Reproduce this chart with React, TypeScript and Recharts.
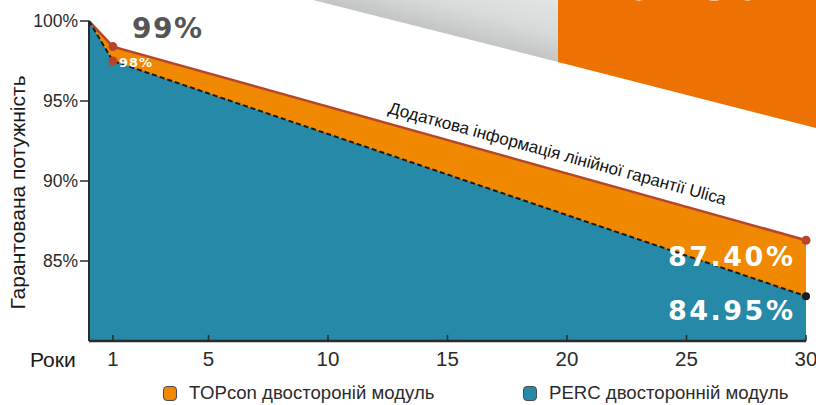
import React from 'react';
import { ComposedChart, Area, XAxis, YAxis, Legend } from 'recharts';

// ---- data ----
const years = [0, 1, 30];
const topconValues = [100, 98.4, 86.3];
const percValues = [100, 97.5, 82.8];
const xTicks = [1, 5, 10, 15, 20, 25, 30];
const yTicks = [85, 90, 95, 100];
const seriesNames = ['TOPcon двостороній модуль', 'PERC двосторонній модуль'];
const calloutLabels = ['99%', '98%', '87.40%', '84.95%'];
const axisTitles = ['Роки', 'Гарантована потужність'];
const lineNote = 'Додаткова інформація лінійної гарантії Ulica';
const bannerText = 'TOPCON';

const data = years.map((year, i) => ({ year, topcon: topconValues[i], perc: percValues[i] }));

const ORANGE = '#f08800';
const BLUE = '#2589a7';
const RED = '#b5452b';
const SANS = "'Liberation Sans', Arial, sans-serif";
const NARROW = "'Liberation Sans Narrow', 'Liberation Sans', Arial, sans-serif";
const BOLD = "'DejaVu Sans', 'Liberation Sans', sans-serif";

const topconDot = (props: any) => {
  const { cx, cy, index } = props;
  if (index === 0) return <g key={`td${index}`} />;
  return <circle key={`td${index}`} cx={cx} cy={cy} r={4.5} fill={RED} />;
};

const percDot = (props: any) => {
  const { cx, cy, index } = props;
  if (index === 0) return <g key={`pd${index}`} />;
  return <circle key={`pd${index}`} cx={cx} cy={cy} r={index === 1 ? 4.5 : 4} fill={index === 1 ? RED : '#1a1a1a'} />;
};

const XTick = (props: any) => {
  const { x, y, payload } = props;
  return (
    <g>
      <line x1={x} x2={x} y1={y - 8} y2={y - 14} stroke="#2b2b2b" strokeWidth={1.5} />
      <text x={x} y={y + 17} textAnchor="middle" fontFamily={NARROW} fontSize={20.5} fill="#2b2b2b">
        {payload.value}
      </text>
    </g>
  );
};

const LegendContent = () => {
  const items = [
    { name: seriesNames[0], color: ORANGE, left: 163 },
    { name: seriesNames[1], color: BLUE, left: 523 },
  ];
  return (
    <div style={{ position: 'relative', height: 0, width: 816 }}>
      {items.map((it) => (
        <div
          key={it.name}
          style={{
            position: 'absolute',
            left: it.left,
            top: 4,
            display: 'flex',
            alignItems: 'center',
            whiteSpace: 'nowrap',
          }}
        >
          <span
            style={{
              display: 'inline-block',
              width: 14,
              height: 15,
              boxSizing: 'border-box',
              borderRadius: 4,
              border: '1px solid #4a4a4a',
              background: it.color,
              marginRight: 12,
            }}
          />
          <span style={{ fontFamily: SANS, fontSize: 18.6, lineHeight: '18px', color: '#2b2b2b' }}>{it.name}</span>
        </div>
      ))}
    </div>
  );
};

export default function App() {
  return (
    <div style={{ position: 'absolute', left: 0, top: 0, width: 816, height: 405, overflow: 'hidden', background: '#fff' }}>
      {/* background decoration */}
      <svg width={816} height={405} style={{ position: 'absolute', left: 0, top: 0 }}>
        <defs>
          <linearGradient id="grayBand" gradientUnits="userSpaceOnUse" x1={450} y1={35} x2={465} y2={-23}>
            <stop offset="0" stopColor="#c3c4c4" />
            <stop offset="0.45" stopColor="#d8d9d9" />
            <stop offset="1" stopColor="#e3e4e4" />
          </linearGradient>
        </defs>
        <polygon points="313,0 558,0 558,62" fill="url(#grayBand)" />
        <polygon points="558,0 816,0 816,128 558,62" fill="#ee7203" />
        <text x={587} y={-0.5} fontFamily={BOLD} fontWeight="bold" fontSize={46} fill="#fff" textLength={220} lengthAdjust="spacingAndGlyphs">
          {bannerText}
        </text>
      </svg>

      <div style={{ position: 'absolute', left: 0, top: 0 }}>
        <ComposedChart width={816} height={405} data={data} margin={{ top: 21, right: 10, bottom: 34, left: 0 }}>
          <XAxis
            dataKey="year"
            type="number"
            domain={[0, 30]}
            ticks={xTicks}
            height={30}
            axisLine={{ stroke: '#2b2b2b', strokeWidth: 2.5 }}
            tickLine={false}
            tickSize={6}
            tickMargin={2}
            tick={<XTick />}
            interval={0}
          />
          <YAxis
            type="number"
            domain={[80, 100]}
            ticks={yTicks}
            width={89}
            tickFormatter={(v: number) => `${v}%`}
            axisLine={{ stroke: '#2b2b2b', strokeWidth: 2 }}
            tickLine={{ stroke: '#2b2b2b', strokeWidth: 1.5 }}
            tickSize={9}
            tickMargin={2}
            tick={{ fontFamily: SANS, fontSize: 17.5, fill: '#2b2b2b' }}
            interval={0}
          />
          <Area
            name={seriesNames[0]}
            dataKey="topcon"
            type="linear"
            fill={ORANGE}
            fillOpacity={1}
            stroke={RED}
            strokeWidth={2.5}
            dot={topconDot}
            activeDot={false}
            isAnimationActive={false}
          />
          <Area
            name={seriesNames[1]}
            dataKey="perc"
            type="linear"
            fill={BLUE}
            fillOpacity={1}
            stroke="#1a1a1a"
            strokeWidth={2}
            strokeDasharray="5 3"
            dot={percDot}
            activeDot={false}
            isAnimationActive={false}
          />
          <Legend
            content={<LegendContent />}
            wrapperStyle={{ position: 'absolute', left: 0, top: 380, width: 816, height: 0 }}
          />
        </ComposedChart>
      </div>

      {/* annotations */}
      <svg width={816} height={405} style={{ position: 'absolute', left: 0, top: 0, pointerEvents: 'none' }}>
        <text x={30} y={367} fontFamily={SANS} fontSize={21} fill="#1a1a1a">{axisTitles[0]}</text>
        <text
          transform="translate(25,192.5) rotate(-90)"
          textAnchor="middle"
          fontFamily={SANS}
          fontSize={21}
          fill="#1a1a1a"
        >
          {axisTitles[1]}
        </text>
        <text
          x={556}
          y={159}
          transform="rotate(15.3 556 159)"
          textAnchor="middle"
          fontFamily={SANS}
          fontSize={17}
          fill="#111"
        >
          {lineNote}
        </text>
        <text x={132} y={38} fontFamily={BOLD} fontWeight="bold" fontSize={28} letterSpacing={1.5} fill="#555555">
          {calloutLabels[0]}
        </text>
        <text x={119} y={67} fontFamily={BOLD} fontWeight="bold" fontSize={13} letterSpacing={1} fill="#fff">
          {calloutLabels[1]}
        </text>
        <text x={668} y={266} fontFamily={BOLD} fontWeight="bold" fontSize={27} letterSpacing={2.5} fill="#fff">
          {calloutLabels[2]}
        </text>
        <text x={668} y={320} fontFamily={BOLD} fontWeight="bold" fontSize={27} letterSpacing={2.5} fill="#fff">
          {calloutLabels[3]}
        </text>
      </svg>
    </div>
  );
}
